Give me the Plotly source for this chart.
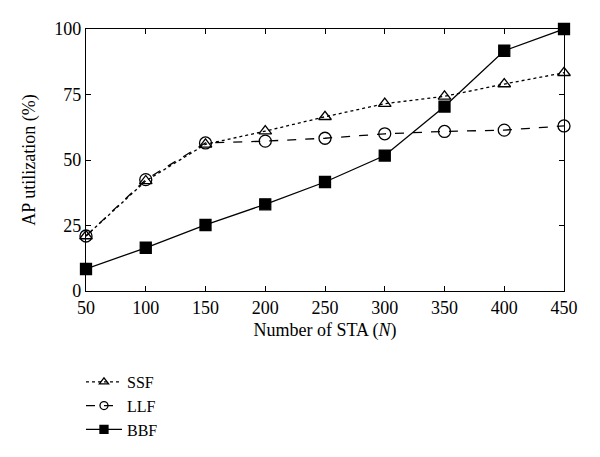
import plotly.graph_objects as go

sta = [50, 100, 150, 200, 250, 300, 350, 400, 450]
ssf = [21, 42, 56, 61, 66.5, 71.5, 74.3, 79, 83.3]
llf = [21, 42.5, 56.5, 57.2, 58.3, 60, 60.9, 61.4, 63]
bbf = [8.4, 16.5, 25.2, 33.1, 41.6, 51.7, 70.4, 91.7, 100]

styles = [
    ("SSF", ssf, "dot", "triangle-up-open", 11),
    ("LLF", llf, "dash", "circle-open", 12),
    ("BBF", bbf, "solid", "square", 11),
]

fig = go.Figure()
for name, vals, dash, sym, size in styles:
    fig.add_trace(go.Scatter(x=sta, y=vals, name=name, mode="lines+markers", cliponaxis=False,
                             showlegend=False,
                             line=dict(color="black", width=1.3, dash=dash),
                             marker=dict(symbol=sym, size=size, color="black",
                                         line=dict(width=1.3, color="black"))))
# legend entries with smaller symbols, like the original key
for name, vals, dash, sym, size in styles:
    fig.add_trace(go.Scatter(x=[None], y=[None], name=name, mode="lines+markers",
                             line=dict(color="black", width=1.3, dash=dash),
                             marker=dict(symbol=sym, size=8, color="black",
                                         line=dict(width=1.3, color="black"))))

axis_style = dict(showline=True, linecolor="black", linewidth=1.3, mirror="ticks",
                  ticks="inside", ticklen=5, tickcolor="black", showgrid=False,
                  zeroline=False, automargin=False,
                  tickfont=dict(size=18, color="black"))

fig.update_xaxes(range=[50, 450], tickvals=sta,
                 title=dict(text="Number of STA (<i>N</i>)", font=dict(size=18, color="black"),
                            standoff=6),
                 **axis_style)
fig.update_yaxes(range=[0, 100], tickvals=[0, 25, 50, 75, 100],
                 title=dict(text="AP utilization (%)", font=dict(size=18, color="black"),
                            standoff=13),
                 **axis_style)

fig.update_layout(
    width=600, height=457,
    margin=dict(l=78, r=44, t=21, b=174),
    plot_bgcolor="white", paper_bgcolor="white",
    font=dict(family="Liberation Serif", size=18, color="black"),
    legend=dict(x=-0.0105, y=-0.282, xanchor="left", yanchor="top",
                font=dict(size=16), tracegroupgap=0, itemwidth=36),
)

fig.write_html("out.html")
